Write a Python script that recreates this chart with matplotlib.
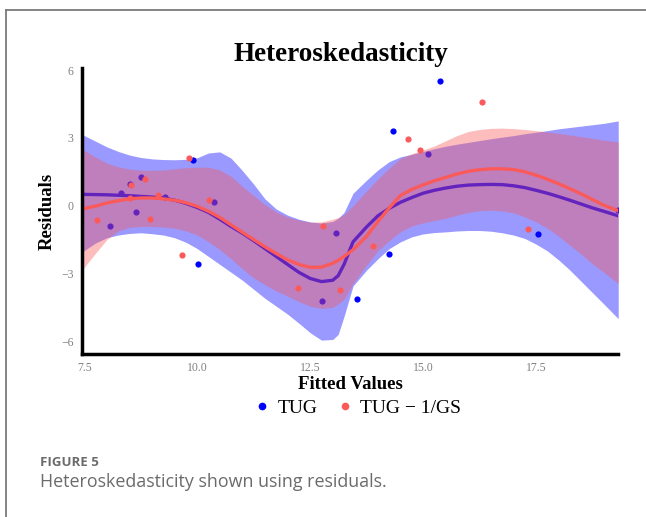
"""
Heteroskedasticity chart.

Residuals vs fitted values with smooth lines and bands.
"""
import matplotlib.pyplot as plt
from matplotlib.lines import Line2D

# TUG points
tug_x = [8.06, 8.32, 8.51, 8.76, 8.65, 9.28, 9.90, 10.37, 10.02, 15.37,
         14.34, 15.10, 13.07, 14.25, 12.77, 13.54, 17.54, 19.31]
tug_y = [-0.89, 0.54, 0.95, 1.25, -0.27, 0.38, 2.03, 0.14, -2.56, 5.52,
         3.30, 2.29, -1.20, -2.15, -4.21, -4.12, -1.26, -0.19]

# TUG - 1/GS points
gs_x = [8.54, 8.85, 8.51, 7.79, 8.96, 9.14, 9.82, 10.25, 9.67, 14.67,
        14.94, 12.78, 13.90, 12.23, 13.17, 16.30, 17.32]
gs_y = [0.91, 1.17, 0.35, -0.63, -0.58, 0.48, 2.10, 0.26, -2.19, 2.96,
        2.46, -0.89, -1.78, -3.66, -3.74, 4.58, -1.03]

# smooth lines and bands
fx = [7.45, 7.75, 8.0, 8.25, 8.5, 8.75, 9.0, 9.25, 9.5, 9.75,
      10.0, 10.25, 10.5, 10.75, 11.0, 11.25, 11.5, 11.75, 12.0, 12.25,
      12.5, 12.75, 13.0, 13.12, 13.25, 13.45, 13.75, 14.0, 14.25, 14.5,
      14.75, 15.0, 15.25, 15.5, 15.75, 16.0, 16.25, 16.5, 16.75, 17.0,
      17.25, 17.5, 17.75, 18.0, 18.25, 18.5, 18.75, 19.0, 19.32]

tug_fit = [0.50, 0.49, 0.48, 0.46, 0.44, 0.41, 0.38, 0.34, 0.24, 0.10,
           -0.08, -0.30, -0.60, -0.92, -1.22, -1.55, -1.90, -2.25, -2.60,
           -2.95, -3.22, -3.36, -3.30, -3.10, -2.60, -1.60, -0.94, -0.45,
           -0.12, 0.15, 0.36, 0.55, 0.68, 0.78, 0.86, 0.91, 0.93, 0.94,
           0.93, 0.88, 0.80, 0.68, 0.55, 0.40, 0.24, 0.07, -0.10, -0.25,
           -0.45]
tug_hi = [3.15, 2.85, 2.60, 2.40, 2.24, 2.13, 2.07, 2.04, 2.03, 2.05,
          2.12, 2.33, 2.38, 2.10, 1.55, 0.95, 0.30, -0.15, -0.42, -0.60,
          -0.72, -0.77, -0.70, -0.56, -0.30, 0.55, 1.13, 1.58, 1.95, 2.16,
          2.27, 2.40, 2.52, 2.63, 2.72, 2.80, 2.88, 2.96, 3.03, 3.10,
          3.18, 3.25, 3.32, 3.40, 3.46, 3.52, 3.58, 3.64, 3.75]
tug_lo = [-2.05, -1.65, -1.42, -1.30, -1.23, -1.20, -1.24, -1.30, -1.42,
          -1.62, -1.90, -2.25, -2.60, -2.95, -3.30, -3.70, -4.10, -4.45,
          -4.80, -5.20, -5.62, -5.95, -5.92, -5.70, -4.90, -3.55, -2.85,
          -2.35, -1.90, -1.60, -1.38, -1.25, -1.19, -1.16, -1.12, -1.10,
          -1.10, -1.13, -1.20, -1.30, -1.45, -1.70, -2.00, -2.40, -2.85,
          -3.35, -3.85, -4.35, -5.00]

gs_fit = [-0.15, -0.02, 0.12, 0.22, 0.30, 0.34, 0.34, 0.30, 0.24, 0.13,
          -0.03, -0.25, -0.52, -0.85, -1.18, -1.50, -1.82, -2.12, -2.40,
          -2.60, -2.73, -2.72, -2.55, -2.42, -2.25, -1.95, -1.35, -0.70,
          -0.10, 0.45, 0.72, 0.92, 1.10, 1.25, 1.40, 1.52, 1.59, 1.63,
          1.63, 1.60, 1.50, 1.35, 1.17, 0.97, 0.75, 0.52, 0.27, 0.02,
          -0.22]
gs_hi = [2.50, 2.15, 1.88, 1.72, 1.62, 1.57, 1.56, 1.58, 1.63, 1.68,
         1.70, 1.70, 1.58, 1.30, 0.85, 0.45, 0.05, -0.28, -0.50, -0.64,
         -0.73, -0.72, -0.60, -0.52, -0.40, 0.00, 0.65, 1.18, 1.66, 2.09,
         2.30, 2.47, 2.64, 2.87, 3.10, 3.28, 3.37, 3.42, 3.43, 3.41,
         3.37, 3.32, 3.26, 3.20, 3.13, 3.05, 2.98, 2.90, 2.82]
gs_lo = [-2.85, -2.10, -1.50, -1.12, -0.96, -0.92, -0.92, -0.95, -1.00,
         -1.12, -1.30, -1.60, -1.95, -2.35, -2.80, -3.20, -3.50, -3.78,
         -4.00, -4.25, -4.45, -4.55, -4.50, -4.35, -4.15, -3.45, -2.63,
         -2.00, -1.55, -1.15, -0.90, -0.76, -0.66, -0.56, -0.42, -0.30,
         -0.22, -0.20, -0.23, -0.32, -0.50, -0.72, -1.00, -1.35, -1.75,
         -2.15, -2.58, -2.95, -3.45]

x_ticks = [7.5, 10.0, 12.5, 15.0, 17.5]
x_labels = ['7.5', '10.0', '12.5', '15.0', '17.5']
y_ticks = [-6, -3, 0, 3, 6]
y_labels = ['\u22126', '\u22123', '0', '3', '6']

BLUE = '#0000FF'
RED = '#FA5A5A'
SERIF = ['Liberation Serif', 'DejaVu Serif']
SANS = ['Open Sans', 'DejaVu Sans']


def draw_series(ax, px, py, fit, lo, hi, color):
    """Points, band and line of one series."""
    ax.scatter(px, py, s=20, color=color, linewidths=0, zorder=2)
    ax.fill_between(fx, lo, hi, color=color, alpha=0.4, linewidth=0,
                    zorder=2)
    ax.plot(fx, fit, color=color, linewidth=2.4, zorder=2,
            solid_joinstyle='round')


def frame(fig):
    """Gray border at left and top of the figure."""
    fig.add_artist(Line2D([0.0095, 0.0095], [0.0, 0.981], color='#7a7a7a',
                          linewidth=1.3, transform=fig.transFigure))
    fig.add_artist(Line2D([0.0095, 1.0], [0.981, 0.981], color='#7a7a7a',
                          linewidth=1.3, transform=fig.transFigure))


def main():
    """Draw and save."""
    fig = plt.figure(figsize=(6.46, 5.17), dpi=100)
    ax = fig.add_axes([0.127, 0.315, 0.830, 0.553])

    draw_series(ax, tug_x, tug_y, tug_fit, tug_lo, tug_hi, BLUE)
    draw_series(ax, gs_x, gs_y, gs_fit, gs_lo, gs_hi, RED)

    ax.set_xlim(7.45, 19.32)
    ax.set_ylim(-6.57, 6.08)
    ax.set_xticks(x_ticks, x_labels)
    ax.set_yticks(y_ticks, y_labels)
    ax.tick_params(length=0, colors='#808080', labelsize=8.5, pad=6)
    for lab in ax.get_xticklabels() + ax.get_yticklabels():
        lab.set_family(SERIF)
    ax.spines['top'].set_visible(False)
    ax.spines['right'].set_visible(False)
    ax.spines['left'].set_linewidth(2.5)
    ax.spines['bottom'].set_linewidth(2.5)

    ax.set_xlabel('Fitted Values', family=SERIF, fontweight='bold',
                  fontsize=13.5, labelpad=1)
    ax.set_ylabel('Residuals', family=SERIF, fontweight='bold',
                  fontsize=13.5, labelpad=4)
    fig.text(0.527, 0.895, 'Heteroskedasticity', family=SERIF,
             fontweight='bold', fontsize=19.5, ha='center', va='center')

    handles = [
        Line2D([], [], marker='o', linestyle='', color=BLUE, markersize=4.5),
        Line2D([], [], marker='o', linestyle='', color=RED, markersize=4.5),
    ]
    fig.legend(handles, ['TUG', 'TUG \u2212 1/GS'], loc='center',
               bbox_to_anchor=(0.552, 0.211), ncol=2, frameon=False,
               prop={'family': SERIF, 'size': 14}, handletextpad=0.3,
               columnspacing=0.9, handlelength=1.0)

    fig.text(0.062, 0.106, 'FIGURE 5', family=SANS, fontweight='bold',
             fontsize=9.5, color='#6b6b6b', va='center')
    fig.text(0.062, 0.068, 'Heteroskedasticity shown using residuals.',
             family=SANS, fontsize=12.9, color='#6b6b6b', va='center')

    frame(fig)
    fig.savefig('out.png', dpi=100)


if __name__ == '__main__':
    main()
